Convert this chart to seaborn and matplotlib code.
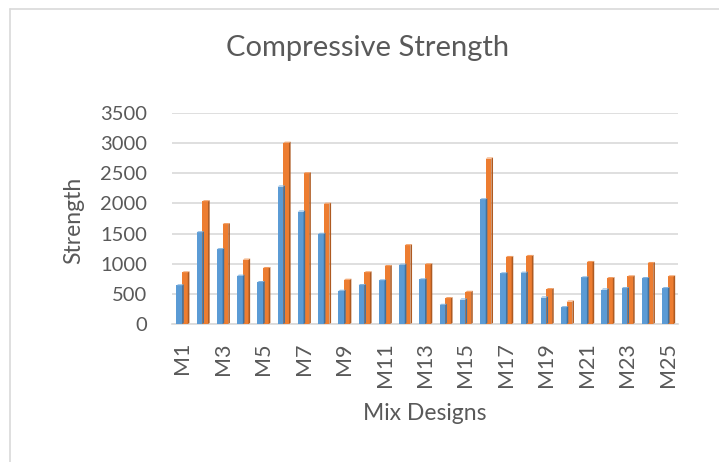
import matplotlib
matplotlib.use("Agg")
import matplotlib.pyplot as plt
from matplotlib.patches import Polygon
from matplotlib.lines import Line2D
import seaborn as sns
import pandas as pd
import numpy as np

# Mix design identifiers
mixes = [f"M{i}" for i in range(1, 26)]

# Compressive strength per mix, two curing stages
strength_early = [640, 1520, 1240, 800, 695, 2280, 1865, 1495, 550, 645, 722, 983,
                  739, 317, 406, 2067, 839, 850, 439, 278, 772, 572, 594, 761, 594]
strength_late = [855, 2035, 1656, 1067, 928, 3006, 2500, 1994, 733, 856, 961, 1306,
                 989, 428, 533, 2744, 1111, 1128, 578, 372, 1028, 761, 789, 1011, 789]

series_names = ["Series1", "Series2"]
front_colors = ["#5B9BD5", "#ED7D31"]
side_colors = ["#41719C", "#AE5A21"]
top_colors = ["#7FB2E0", "#F29A5C"]

df = pd.DataFrame({
    "Mix": mixes * 2,
    "Strength": strength_early + strength_late,
    "Series": [series_names[0]] * len(mixes) + [series_names[1]] * len(mixes),
})

sns.set_theme(style="white")
plt.rcParams["font.family"] = ["Lato", "DejaVu Sans"]
text_color = "#595959"

W, H = 719, 462
fig = plt.figure(figsize=(W / 100, H / 100), dpi=100)
ax = fig.add_axes([172 / W, 1 - 324 / H, (678 - 172) / W, (324 - 113) / H])

sns.barplot(data=df, x="Mix", y="Strength", hue="Series", palette=front_colors,
            width=0.56, gap=0, legend=False, ax=ax, saturation=1, zorder=3)

# Give each bar a shaded side and top face for a simple extruded look
depth_x = 0.08
depth_y = 18
for patch in list(ax.patches):
    fc = patch.get_facecolor()
    idx = 0 if abs(fc[0] - 0x5B / 255) < 0.05 else 1
    x0 = patch.get_x()
    w = patch.get_width()
    h = patch.get_height()
    x1 = x0 + w
    patch.set_edgecolor("none")
    side = Polygon([(x1, 0), (x1 + depth_x, depth_y), (x1 + depth_x, h + depth_y), (x1, h)],
                   closed=True, facecolor=side_colors[idx], edgecolor="none", zorder=3)
    top = Polygon([(x0, h), (x0 + depth_x, h + depth_y), (x1 + depth_x, h + depth_y), (x1, h)],
                  closed=True, facecolor=top_colors[idx], edgecolor="none", zorder=3)
    ax.add_patch(side)
    ax.add_patch(top)

ax.set_ylim(0, 3500)
ax.set_xlim(-0.5, len(mixes) - 0.5)
ax.set_yticks(np.arange(0, 3501, 500))
ax.yaxis.grid(True, color="#D9D9D9", linewidth=1.2, zorder=0)
ax.set_axisbelow(True)

ax.set_xticks(range(len(mixes)))
ax.set_xticklabels([m if i % 2 == 0 else "" for i, m in enumerate(mixes)], rotation=90)
ax.tick_params(axis="x", length=0, pad=13, labelsize=15.5, labelcolor=text_color)
ax.tick_params(axis="y", length=0, pad=18, labelsize=14.5, labelcolor=text_color)
for lbl in ax.get_yticklabels():
    lbl.set_horizontalalignment("right")

for s in ["top", "right", "left"]:
    ax.spines[s].set_visible(False)
ax.spines["bottom"].set_color("#D9D9D9")
ax.spines["bottom"].set_linewidth(1.2)

ax.set_xlabel("Mix Designs", fontsize=16.5, color=text_color)
ax.set_ylabel("Strength", fontsize=16.5, color=text_color)
ax.xaxis.set_label_coords(0.5, (413 - 324) / (324 - 113) * -1, transform=ax.transAxes)
ax.yaxis.set_label_coords((74 - 172) / (678 - 172), (324 - 220) / (324 - 113), transform=ax.transAxes)
ax.xaxis.label.set_verticalalignment("center")
ax.yaxis.label.set_verticalalignment("center")

fig.text(368 / W, 1 - 48 / H, "Compressive Strength", ha="center", va="center",
         fontsize=21, color=text_color)

# Chart frame edges
fig.add_artist(Line2D([10 / W, 10 / W], [0, 1 - 9 / H], color="#D9D9D9", linewidth=1.2))
fig.add_artist(Line2D([10 / W, 1], [1 - 9 / H, 1 - 9 / H], color="#D9D9D9", linewidth=1.2))

fig.savefig("out.png", dpi=100, facecolor="white")
